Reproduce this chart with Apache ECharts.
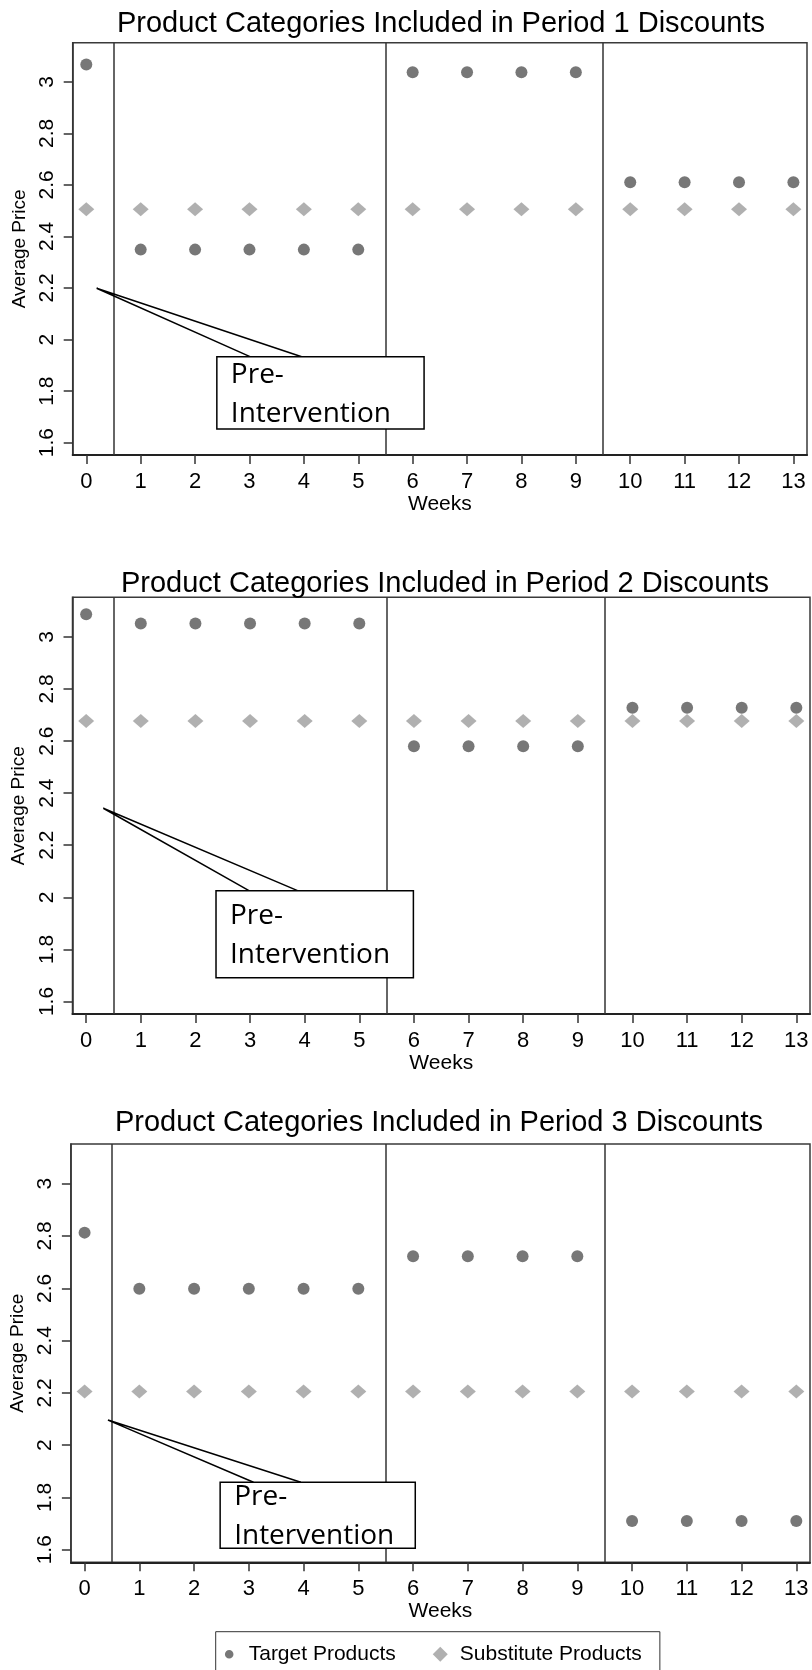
<!DOCTYPE html>
<html><head><meta charset="utf-8">
<script src="https://cdn.jsdelivr.net/npm/echarts@6/dist/echarts.min.js"></script>
<style>html,body{margin:0;padding:0;background:#fff}#c{width:812px;height:1670px}</style>
</head><body><div id="c"></div>
<script>
// ---------- data ----------
const weeks = [0,1,2,3,4,5,6,7,8,9,10,11,12,13];
const xTicks = [0,1,2,3,4,5,6,7,8,9,10,11,12,13];
const yTicks = [1.6,1.8,2,2.2,2.4,2.6,2.8,3];
const breakWeeks = [0.5,5.5,9.5];
const panelTitles = [
  'Product Categories Included in Period 1 Discounts',
  'Product Categories Included in Period 2 Discounts',
  'Product Categories Included in Period 3 Discounts'
];
const target1 = [3.067,2.349,2.349,2.349,2.349,2.349,3.037,3.037,3.037,3.037,2.61,2.61,2.61,2.61];
const substitute1 = [2.506,2.506,2.506,2.506,2.506,2.506,2.506,2.506,2.506,2.506,2.506,2.506,2.506,2.506];
const target2 = [3.087,3.051,3.051,3.051,3.051,3.051,2.58,2.58,2.58,2.58,2.728,2.728,2.728,2.728];
const substitute2 = [2.677,2.677,2.677,2.677,2.677,2.677,2.677,2.677,2.677,2.677,2.677,2.677,2.677,2.677];
const target3 = [2.813,2.598,2.598,2.598,2.598,2.598,2.723,2.723,2.723,2.723,1.71,1.71,1.71,1.71];
const substitute3 = [2.205,2.205,2.205,2.205,2.205,2.205,2.205,2.205,2.205,2.205,2.205,2.205,2.205,2.205];
const targetSeries = [target1, target2, target3];
const substituteSeries = [substitute1, substitute2, substitute3];
const seriesNames = ['Target Products', 'Substitute Products'];
const calloutText = ['Pre-', 'Intervention'];
// callout anchor points in data coordinates (week, price)
const calloutTip = [[0.19,2.199],[0.314,2.342],[0.427,2.096]];
const calloutBase = [[3.02,3.96,1.933],[2.98,3.87,2.0255],[3.085,3.95,1.858]];
const calloutBox = [[2.40,1.933,6.21,1.653],[2.377,2.0255,5.99,1.691],[2.476,1.858,6.04,1.606]];

// ---------- layout / style ----------
const FONT = '"Liberation Sans", Arial, sans-serif';
const grids = [
  {left:72.7, right:5, top:42.7, height:412.3},
  {left:72.5, right:2, top:597.3, height:416.7},
  {left:66.3, right:2, top:1144, height:418.3}
];
const titleLayout = [
  {top:9.5, center:441, size:29},
  {top:569, center:445, size:29},
  {top:1108.7, center:439, size:29}
];
const yNameGap = [37, 36.5, 35];
const textOffsets = [[18.3,57.5],[25.6,64.6],[15.2,53.6]];
const targetColor = '#555555';
const substituteColor = '#9c9c9c';

const measureCtx = document.createElement('canvas').getContext('2d');
function textWidth(t, size) {
  measureCtx.font = size + 'px ' + FONT;
  return measureCtx.measureText(t).width;
}

const option = {
  animation: false,
  backgroundColor: '#fff',
  title: panelTitles.map((t,i)=>({
    text: t, left: titleLayout[i].center - textWidth(t, titleLayout[i].size)/2, top: titleLayout[i].top,
    padding: 0,
    textStyle: {fontFamily: FONT, fontWeight:'normal', fontSize: titleLayout[i].size, color:'#000'}
  })),
  grid: grids.map(g=>Object.assign({show:true, borderColor:'#3a3a3a', borderWidth:1.5, containLabel:false}, g)),
  xAxis: grids.map((g,i)=>({
    type:'value', gridIndex:i, min:-0.25, max:13.25,
    name:'Weeks', nameLocation:'middle', nameGap:35,
    nameTextStyle:{fontFamily:FONT, fontSize:21, color:'#000'},
    axisLine:{show:true, onZero:false, lineStyle:{color:'#222', width:2}},
    axisTick:{show:true, length:9, customValues: xTicks, lineStyle:{color:'#333', width:1.5}},
    axisLabel:{customValues: xTicks, margin:16, fontFamily:FONT, fontSize:22, color:'#000'},
    splitLine:{show:false}
  })),
  yAxis: grids.map((g,i)=>({
    type:'value', gridIndex:i, min:1.552, max:3.152,
    name:'Average Price', nameLocation:'middle', nameGap:yNameGap[i],
    nameTextStyle:{fontFamily:FONT, fontSize:19, color:'#000'},
    axisLine:{show:true, onZero:false, lineStyle:{color:'#333', width:1.5}},
    axisTick:{show:true, length:9, customValues: yTicks, lineStyle:{color:'#333', width:1.5}},
    axisLabel:{customValues: yTicks, rotate:90, margin:15, fontFamily:FONT, fontSize:21, color:'#000',
      formatter: v => String(Math.round(v*10)/10)},
    splitLine:{show:false}
  })),
  legend: {
    left: 215.7, top: 1631.7, orient:'horizontal',
    padding:[12,18,22,6], itemGap:37, itemWidth:15, itemHeight:15,
    borderColor:'#333', borderWidth:1, backgroundColor:'#fff',
    textStyle:{fontFamily:FONT, fontSize:21, color:'#000', padding:[0,0,0,7]},
    data:[
      {name: seriesNames[0], icon:'path://M0 0M20 20M10 4.3A5.7 5.7 0 1 1 9.99 4.3Z'},
      {name: seriesNames[1], icon:'diamond'}
    ],
    selectedMode:false
  },
  series: []
};

for (let p=0; p<3; p++) {
  option.series.push({
    type:'scatter', name: seriesNames[1], xAxisIndex:p, yAxisIndex:p, z:3,
    symbol:'diamond', symbolSize:[16,14],
    itemStyle:{color: substituteColor},
    data: weeks.map((w,k)=>[w, substituteSeries[p][k]]),
    markLine:{silent:true, symbol:['none','none'], label:{show:false}, z:2,
      lineStyle:{color:'#333', width:1.5, type:'solid'},
      emphasis:{disabled:true},
      data: breakWeeks.map(v=>({xAxis:v}))}
  });
  option.series.push({
    type:'scatter', name: seriesNames[0], xAxisIndex:p, yAxisIndex:p, z:4,
    symbol:'circle', symbolSize:12,
    itemStyle:{color: targetColor},
    data: weeks.map((w,k)=>[w, targetSeries[p][k]])
  });
  option.series.push({
    type:'custom', xAxisIndex:p, yAxisIndex:p, z:20, silent:true,
    data:[calloutTip[p]],
    renderItem:(params, api)=>{
      const tip = api.coord(calloutTip[p]);
      const b = calloutBase[p];
      const e1 = api.coord([b[0], b[2]]), e2 = api.coord([b[1], b[2]]);
      const bx = calloutBox[p];
      const tl = api.coord([bx[0], bx[1]]), br = api.coord([bx[2], bx[3]]);
      const off = textOffsets[p];
      return {type:'group', children:[
        {type:'polyline', shape:{points:[e1, tip, e2]}, style:{stroke:'#000', lineWidth:1.5, fill:null}},
        {type:'rect', shape:{x:tl[0], y:tl[1], width:br[0]-tl[0], height:br[1]-tl[1]},
          style:{fill:'#fff', stroke:'#000', lineWidth:1.5}},
        {type:'text', x:tl[0]+14, y:tl[1]+off[0],
          style:{text:calloutText[0], fontFamily:'"Open Sans", sans-serif', fontSize:28, fill:'#000', align:'left', verticalAlign:'middle'}},
        {type:'text', x:tl[0]+14, y:tl[1]+off[1],
          style:{text:calloutText[1], fontFamily:'"Open Sans", sans-serif', fontSize:28, fill:'#000', align:'left', verticalAlign:'middle'}}
      ]};
    }
  });
}

const chart = echarts.init(document.getElementById('c'), null, {renderer:'canvas'});
chart.setOption(option);
</script>
</body></html>
